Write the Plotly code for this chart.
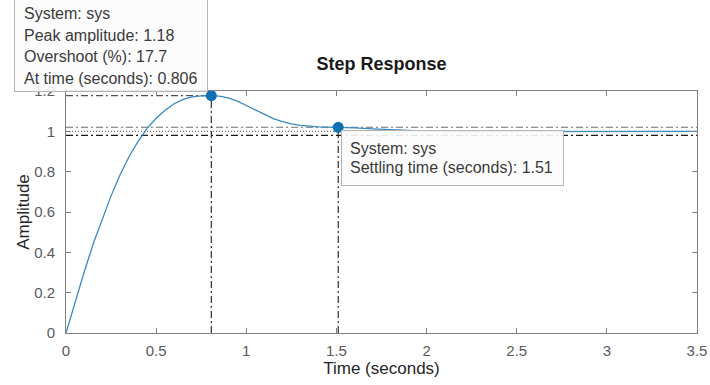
import plotly.graph_objects as go

# ---- data ----
time_s = [0, 0.05, 0.1, 0.15, 0.2, 0.25, 0.3, 0.35, 0.4, 0.45, 0.5, 0.55, 0.6,
          0.65, 0.7, 0.75, 0.806, 0.85, 0.9, 0.95, 1.0, 1.05, 1.1, 1.15, 1.2,
          1.25, 1.3, 1.35, 1.4, 1.45, 1.51, 1.6, 1.7, 1.8, 1.9, 2.0, 2.2, 2.4,
          2.6, 2.8, 3.0, 3.2, 3.5]
amplitude = [0, 0.155, 0.30, 0.44, 0.565, 0.68, 0.785, 0.875, 0.95, 1.015,
             1.065, 1.105, 1.137, 1.158, 1.171, 1.176, 1.177, 1.175, 1.166,
             1.150, 1.128, 1.105, 1.083, 1.063, 1.048, 1.037, 1.030, 1.025,
             1.022, 1.021, 1.020, 1.017, 1.012, 1.008, 1.004, 1.001, 0.998,
             0.998, 0.999, 1.0, 1.0, 1.0, 1.0]

peak_time = 0.806
peak_amp = 1.177
overshoot_pct = 17.7
settle_time = 1.51
settle_amp = 1.02
final_value = 1.0
band_hi = 1.02
band_lo = 0.98

x_ticks = [0, 0.5, 1, 1.5, 2, 2.5, 3, 3.5]
x_ticklabels = ["0", "0.5", "1", "1.5", "2", "2.5", "3", "3.5"]
y_ticks = [0, 0.2, 0.4, 0.6, 0.8, 1.0, 1.2]
y_ticklabels = ["0", "0.2", "0.4", "0.6", "0.8", "1", "1.2"]

x_max = 3.5
y_max = 1.2

FONT = "Liberation Sans, Arial, Helvetica, sans-serif"
DASHDOT = "7px,3px,2px,3px"
LINE_BLUE = "#3a89c0"
DOT_BLUE = "#0f6fb3"

fig = go.Figure()

# settling bands and steady-state line
fig.add_trace(go.Scatter(x=[0, x_max], y=[band_hi, band_hi], mode="lines",
                         line=dict(color="#6e6e6e", width=1.1, dash=DASHDOT)))
fig.add_trace(go.Scatter(x=[0, x_max], y=[band_lo, band_lo], mode="lines",
                         line=dict(color="#1a1a1a", width=1.1, dash=DASHDOT)))
fig.add_trace(go.Scatter(x=[0, x_max], y=[final_value, final_value], mode="lines",
                         line=dict(color="#555555", width=1, dash="1px,2px")))
# peak marker lines
fig.add_trace(go.Scatter(x=[0, peak_time], y=[peak_amp, peak_amp], mode="lines",
                         line=dict(color="#505050", width=1.1, dash=DASHDOT)))
fig.add_trace(go.Scatter(x=[peak_time, peak_time], y=[0, peak_amp], mode="lines",
                         line=dict(color="#1a1a1a", width=1.1, dash=DASHDOT)))
fig.add_trace(go.Scatter(x=[settle_time, settle_time], y=[0, settle_amp], mode="lines",
                         line=dict(color="#1a1a1a", width=1.1, dash=DASHDOT)))

# step response
fig.add_trace(go.Scatter(x=time_s, y=amplitude, mode="lines",
                         line=dict(color=LINE_BLUE, width=1.3)))

# data tip dots
fig.add_trace(go.Scatter(x=[peak_time, settle_time], y=[peak_amp, settle_amp],
                         mode="markers",
                         marker=dict(color=DOT_BLUE, size=11, line=dict(width=0))))

axis_common = dict(showgrid=False, zeroline=False, showline=True,
                   linecolor="#808080", linewidth=1, mirror="ticks",
                   ticks="inside", ticklen=5, tickcolor="#808080",
                   automargin=False,
                   tickfont=dict(family=FONT, size=15, color="#5a5a5a"))

fig.update_xaxes(range=[0, x_max], tickvals=x_ticks, ticktext=x_ticklabels,
                 ticklabelstandoff=4,
                 title=dict(text="Time (seconds)", standoff=3,
                            font=dict(family=FONT, size=17, color="#262626")),
                 **axis_common)
fig.update_yaxes(range=[0, y_max], tickvals=y_ticks, ticktext=y_ticklabels,
                 ticklabelstandoff=7,
                 title=dict(text="Amplitude", standoff=0,
                            font=dict(family=FONT, size=17, color="#262626")),
                 **axis_common)

tip_font = dict(family=FONT, size=16, color="#3a3a3a")
annotations = []
# peak data tip box
annotations.append(dict(x=peak_time, y=peak_amp, xref="x", yref="y",
                        xanchor="right", yanchor="bottom", xshift=-3, yshift=4,
                        text=" ", width=192, height=100, showarrow=False,
                        bgcolor="rgba(252,252,252,0.85)", bordercolor="#b4b4b4",
                        borderwidth=1, borderpad=0))
peak_lines = ["System: sys",
              f"Peak amplitude: {peak_amp:.2f}",
              f"Overshoot (%): {overshoot_pct}",
              f"At time (seconds): {peak_time}"]
for i, txt in enumerate(peak_lines):
    annotations.append(dict(x=peak_time, y=peak_amp, xref="x", yref="y",
                            xanchor="left", yanchor="middle",
                            xshift=-189, yshift=82 - 21.5 * i,
                            text=txt, showarrow=False, font=tip_font))
# settling data tip box
annotations.append(dict(x=settle_time, y=settle_amp, xref="x", yref="y",
                        xanchor="left", yanchor="top", xshift=3, yshift=-3,
                        text=" ", width=221, height=54, showarrow=False,
                        bgcolor="rgba(252,252,252,0.9)", bordercolor="#b4b4b4",
                        borderwidth=1, borderpad=0))
settle_lines = ["System: sys", f"Settling time (seconds): {settle_time}"]
for i, txt in enumerate(settle_lines):
    annotations.append(dict(x=settle_time, y=settle_amp, xref="x", yref="y",
                            xanchor="left", yanchor="middle",
                            xshift=10, yshift=-21 - 19.5 * i,
                            text=txt, showarrow=False, font=tip_font))

fig.update_layout(
    width=710, height=385,
    margin=dict(l=66, r=13, t=91, b=52, autoexpand=False),
    paper_bgcolor="white", plot_bgcolor="white",
    showlegend=False, hovermode=False,
    title=dict(text="<b>Step Response</b>", x=(66 + 697) / 2 / 710, xanchor="center",
               y=1 - 64 / 385, yanchor="middle",
               font=dict(family=FONT, size=18, color="#1a1a1a")),
    annotations=annotations,
)

fig.write_html("out.html", config={"displayModeBar": False},
               post_script="document.body.style.margin='0';"
                           "document.body.style.padding='0';"
                           "document.body.style.overflow='hidden';")
